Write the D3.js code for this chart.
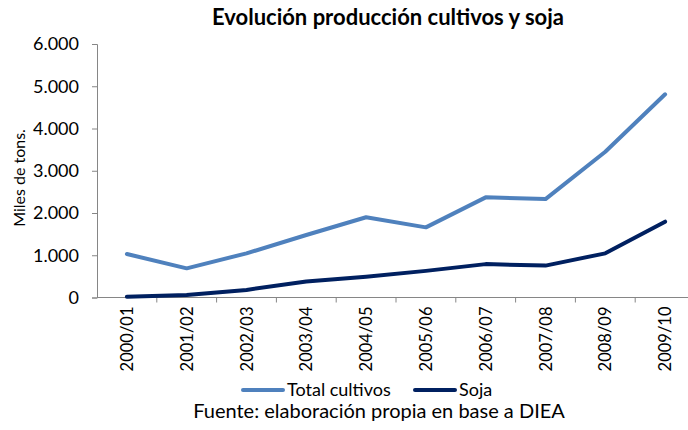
<!DOCTYPE html>
<html lang="es">
<head>
<meta charset="UTF-8">
<script src="https://d3js.org/d3.v7.min.js"></script>
<style>
  body { margin: 0; background: #fff; }
  text { font-family: Lato, "Open Sans", sans-serif; fill: #000; }
</style>
</head>
<body>
<div id="chart_area"></div>
<script>
  // datos (miles de toneladas)
  var campaigns = ["2000/01","2001/02","2002/03","2003/04","2004/05","2005/06","2006/07","2007/08","2008/09","2009/10"];
  var totalCultivos = [1030, 690, 1045, 1480, 1900, 1660, 2370, 2330, 3450, 4810];
  var soja = [20, 60, 180, 380, 490, 630, 790, 755, 1045, 1795];
  var yTicks = [0, 1000, 2000, 3000, 4000, 5000, 6000];

  var series = [
    { name: "Total cultivos", values: totalCultivos, color: "#4f81bd" },
    { name: "Soja", values: soja, color: "#002060" }
  ];

  var W = 688, H = 430;
  var plotLeft = 97, plotRight = 695, plotTop = 44, plotBottom = 297.5;

  var svg = d3.select("#chart_area").append("svg")
    .attr("width", W).attr("height", H);

  var x = d3.scaleBand().domain(campaigns).range([plotLeft, plotRight]);
  var y = d3.scaleLinear().domain([0, 6000]).range([plotBottom, plotTop]);

  var fmt = function(v) { return d3.format(",")(v).replace(/,/g, "."); };

  // title
  svg.append("text")
    .attr("x", 388).attr("y", 25)
    .attr("text-anchor", "middle")
    .style("font-size", "22px").style("font-weight", "bold")
    .text("Evolución producción cultivos y soja");

  // y axis
  var yAxis = svg.append("g")
    .attr("transform", "translate(" + plotLeft + ",0)")
    .call(d3.axisLeft(y).tickValues(yTicks).tickFormat(fmt).tickSize(5).tickPadding(13));
  yAxis.select(".domain").attr("stroke", "#868686");
  yAxis.selectAll(".tick line").attr("stroke", "#868686");
  yAxis.selectAll("text").style("font-size", "18px").style("font-family", "Lato, sans-serif");

  // x axis (ticks between categories)
  var xg = svg.append("g").attr("transform", "translate(0," + plotBottom + ")");
  xg.append("line").attr("x1", plotLeft).attr("x2", plotRight).attr("stroke", "#868686");
  xg.selectAll("line.tk").data(campaigns).enter().append("line")
    .attr("class", "tk")
    .attr("x1", function(d) { return x(d) + x.bandwidth(); })
    .attr("x2", function(d) { return x(d) + x.bandwidth(); })
    .attr("y1", 0).attr("y2", 5).attr("stroke", "#868686");
  xg.selectAll("text.lbl").data(campaigns).enter().append("text")
    .attr("class", "lbl")
    .attr("transform", function(d) {
      return "translate(" + (x(d) + x.bandwidth() / 2 + 6) + ",9) rotate(-90)";
    })
    .attr("text-anchor", "end")
    .style("font-size", "16.5px")
    .text(function(d) { return d; });

  // y title
  svg.append("text")
    .attr("transform", "translate(25,178) rotate(-90)")
    .attr("text-anchor", "middle")
    .style("font-size", "16px")
    .text("Miles de tons.");

  // lines
  var line = d3.line()
    .x(function(d, i) { return x(campaigns[i]) + x.bandwidth() / 2; })
    .y(function(d) { return y(d); });

  series.forEach(function(s) {
    svg.append("path")
      .datum(s.values)
      .attr("d", line)
      .attr("fill", "none")
      .attr("stroke", s.color)
      .attr("stroke-width", 4)
      .attr("stroke-linecap", "round")
      .attr("stroke-linejoin", "round");
  });

  // legend
  var legendPos = [243, 415];
  series.forEach(function(s, i) {
    var g = svg.append("g").attr("transform", "translate(" + legendPos[i] + ",390)");
    g.append("line").attr("x1", 0).attr("x2", 40)
      .attr("stroke", s.color).attr("stroke-width", 4).attr("stroke-linecap", "round");
    g.append("text").attr("x", 44).attr("y", 6)
      .style("font-size", "18px").text(s.name);
  });

  // source
  svg.append("text")
    .attr("x", 379).attr("y", 418)
    .attr("text-anchor", "middle")
    .style("font-size", "20px")
    .text("Fuente: elaboración propia en base a DIEA");
</script>
</body>
</html>
